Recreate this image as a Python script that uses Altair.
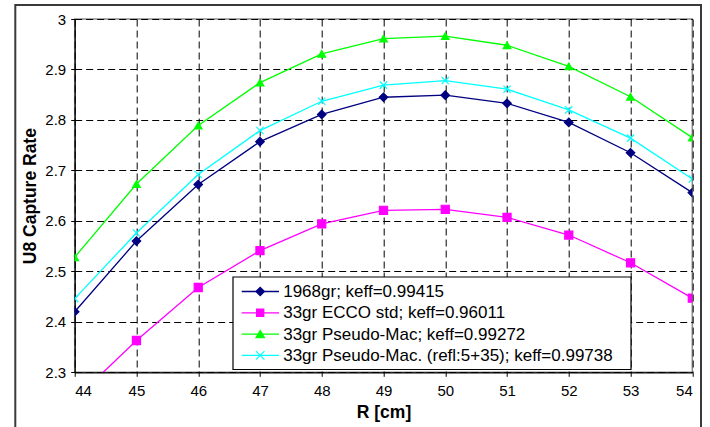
import altair as alt
import pandas as pd

# Radial position [cm]
r_cm = [44, 45, 46, 47, 48, 49, 50, 51, 52, 53, 54]

series_names = [
    "1968gr; keff=0.99415",
    "33gr ECCO std; keff=0.96011",
    "33gr Pseudo-Mac; keff=0.99272",
    "33gr Pseudo-Mac. (refl:5+35); keff=0.99738",
]

# U8 capture rate for each library / model
rate_1968gr = [2.420, 2.560, 2.672, 2.757, 2.811, 2.845, 2.849, 2.833, 2.795, 2.735, 2.656]
rate_ecco_std = [2.246, 2.363, 2.468, 2.541, 2.594, 2.621, 2.623, 2.607, 2.572, 2.517, 2.447]
rate_pseudo_mac = [2.528, 2.673, 2.789, 2.874, 2.931, 2.961, 2.966, 2.948, 2.906, 2.846, 2.765]
rate_pseudo_mac_refl = [2.446, 2.576, 2.692, 2.779, 2.837, 2.869, 2.878, 2.861, 2.820, 2.764, 2.683]

y_ticks = [2.3, 2.4, 2.5, 2.6, 2.7, 2.8, 2.9, 3.0]
x_ticks = r_cm

colors = ["#000080", "#FF00FF", "#00FF00", "#00FFFF"]
shapes = ["diamond", "square", "triangle-up", "M-1,-1L1,1M-1,1L1,-1"]
sizes = [72, 52, 72, 72]

all_rates = [rate_1968gr, rate_ecco_std, rate_pseudo_mac, rate_pseudo_mac_refl]
rows = []
for name, rates in zip(series_names, all_rates):
    for r, v in zip(r_cm, rates):
        rows.append({"R": r, "rate": v, "series": name})
df = pd.DataFrame(rows)

W, H = 617.6, 353.3
FONT = "Liberation Sans"

x_enc = alt.X(
    "R:Q",
    scale=alt.Scale(domain=[44, 54], nice=False, zero=False),
    axis=alt.Axis(
        values=x_ticks, title="R [cm]", format="d",
        titleY=40.5, titleBaseline="middle", labelPadding=7,
    ),
)
y_enc = alt.Y(
    "rate:Q",
    scale=alt.Scale(domain=[2.3, 3.0], nice=False, zero=False),
    axis=alt.Axis(
        values=y_ticks, title="U8 Capture Rate", format="~g",
        titleX=-44.5, titleBaseline="middle", labelPadding=5,
    ),
)
color_scale = alt.Scale(domain=series_names, range=colors)

base = alt.Chart(df)

lines = base.mark_line(strokeWidth=1.3, clip=True).encode(
    x=x_enc,
    y=y_enc,
    color=alt.Color("series:N", scale=color_scale, legend=None),
)

points = base.mark_point(filled=True, opacity=1, strokeWidth=1.2, clip=True).encode(
    x=x_enc,
    y=y_enc,
    fill=alt.Fill("series:N", scale=color_scale, legend=None),
    stroke=alt.Stroke("series:N", scale=color_scale, legend=None),
    shape=alt.Shape("series:N", scale=alt.Scale(domain=series_names, range=shapes), legend=None),
    size=alt.Size("series:N", scale=alt.Scale(domain=series_names, range=sizes), legend=None),
)

# Outer chart frame (outline only)
one = pd.DataFrame({"k": [0]})
frame = alt.Chart(one).mark_rect(fillOpacity=0, stroke="#3a3a3a", strokeWidth=2).encode(
    x=alt.value(-59.4), x2=alt.value(626.3), y=alt.value(-14), y2=alt.value(420)
)

# Legend box with line + marker samples
leg_box = alt.Chart(one).mark_rect(fill="white", stroke="black", strokeWidth=1.2).encode(
    x=alt.value(158.3), x2=alt.value(556.3), y=alt.value(258), y2=alt.value(350.5)
)
legend_layers = [leg_box]
row_y = [272.5, 293.8, 315.1, 336.4]
for i, name in enumerate(series_names):
    d = pd.DataFrame({"series": [name]})
    legend_layers.append(
        alt.Chart(d).mark_rule(color=colors[i], strokeWidth=1.3).encode(
            x=alt.value(167), x2=alt.value(204.3), y=alt.value(row_y[i])
        )
    )
    legend_layers.append(
        alt.Chart(d).mark_point(
            filled=True, opacity=1, fill=colors[i], stroke=colors[i],
            strokeWidth=1.2, shape=shapes[i], size=sizes[i],
        ).encode(x=alt.value(185.5), y=alt.value(row_y[i]))
    )
    legend_layers.append(
        alt.Chart(d).mark_text(
            align="left", baseline="middle", fontSize=17, font=FONT, color="black"
        ).encode(x=alt.value(208.5), y=alt.value(row_y[i] + 0.5), text="series:N")
    )

chart = alt.layer(frame, lines, points, *legend_layers).properties(
    width=W,
    height=H,
    autosize=alt.AutoSizeParams(type="none"),
    padding={"left": 74.7, "top": 19, "right": 17.7, "bottom": 54.7},
    background="white",
).configure_view(
    stroke="#8c8c8c", strokeWidth=1.5
).configure_axis(
    grid=True,
    gridColor="black",
    gridDash=[7, 4],
    gridWidth=1,
    domainColor="black",
    domainWidth=1.2,
    tickColor="black",
    tickSize=4,
    labelFont=FONT,
    labelFontSize=15,
    labelColor="black",
    titleFont=FONT,
    titleFontSize=17.5,
    titleFontWeight="bold",
    titleColor="black",
)

chart.save("out.html", embed_options={"renderer": "svg", "actions": False})
